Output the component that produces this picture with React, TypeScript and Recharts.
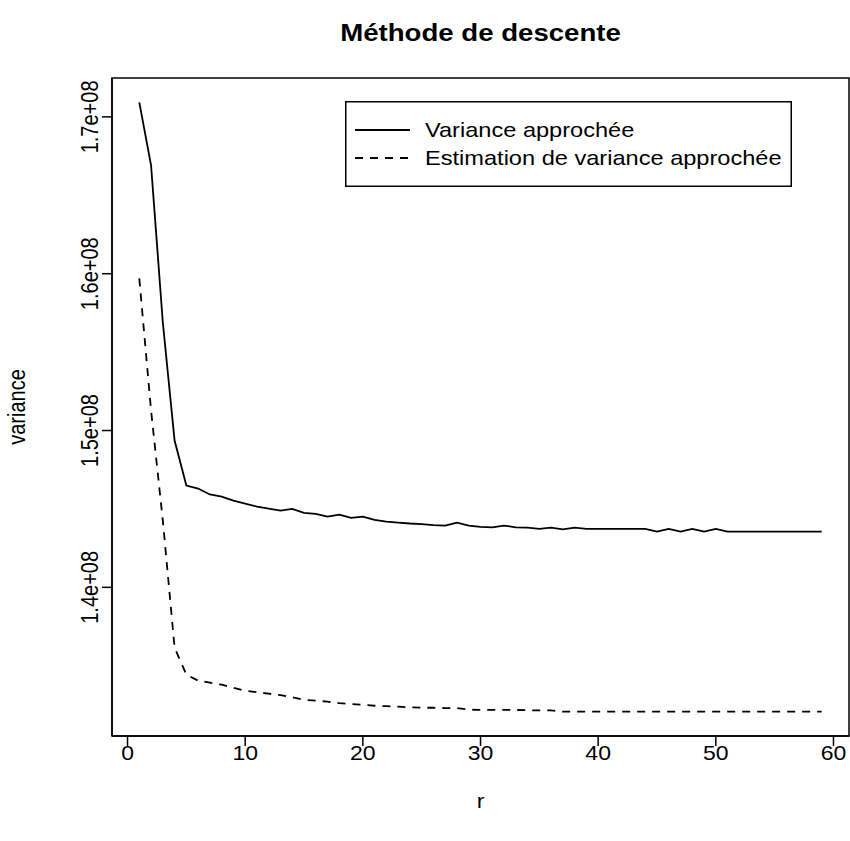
import { LineChart, Line, XAxis, YAxis, Legend, ReferenceArea } from 'recharts'

const R_VALUES = [
  1, 2, 3, 4, 5, 6, 7, 8, 9, 10, 11, 12, 13, 14, 15, 16, 17, 18, 19, 20,
  21, 22, 23, 24, 25, 26, 27, 28, 29, 30, 31, 32, 33, 34, 35, 36, 37, 38, 39, 40,
  41, 42, 43, 44, 45, 46, 47, 48, 49, 50, 51, 52, 53, 54, 55, 56, 57, 58, 59,
]

// variance approchée
const VARIANCE_APPROX = [
  1.7093e8, 1.6691e8, 1.5689e8, 1.4936e8, 1.4649e8, 1.463e8, 1.4592e8, 1.4579e8, 1.4553e8, 1.4534e8,
  1.4515e8, 1.4502e8, 1.4489e8, 1.45e8, 1.4475e8, 1.4468e8, 1.4451e8, 1.4464e8, 1.4443e8, 1.4451e8,
  1.443e8, 1.4419e8, 1.4413e8, 1.4407e8, 1.4403e8, 1.4397e8, 1.4394e8, 1.4413e8, 1.4394e8, 1.4385e8,
  1.4383e8, 1.4394e8, 1.4383e8, 1.4381e8, 1.4373e8, 1.4381e8, 1.437e8, 1.4381e8, 1.4373e8, 1.4373e8,
  1.4373e8, 1.4373e8, 1.4373e8, 1.4373e8, 1.4355e8, 1.4373e8, 1.4355e8, 1.4373e8, 1.4355e8, 1.4373e8,
  1.4355e8, 1.4355e8, 1.4355e8, 1.4355e8, 1.4355e8, 1.4355e8, 1.4355e8, 1.4355e8, 1.4355e8,
]

// estimation de variance approchée
const VARIANCE_ESTIMATE = [
  1.597e8, 1.5128e8, 1.4426e8, 1.3615e8, 1.3443e8, 1.3405e8, 1.3392e8, 1.3379e8, 1.336e8, 1.3341e8,
  1.3331e8, 1.3322e8, 1.3312e8, 1.3299e8, 1.3283e8, 1.3277e8, 1.3271e8, 1.3261e8, 1.3256e8, 1.3251e8,
  1.3245e8, 1.3242e8, 1.3239e8, 1.3235e8, 1.3232e8, 1.3232e8, 1.323e8, 1.323e8, 1.322e8, 1.3218e8,
  1.3218e8, 1.3218e8, 1.3218e8, 1.3216e8, 1.3216e8, 1.3216e8, 1.3207e8, 1.3207e8, 1.3207e8, 1.3207e8,
  1.3207e8, 1.3207e8, 1.3207e8, 1.3207e8, 1.3207e8, 1.3207e8, 1.3207e8, 1.3207e8, 1.3207e8, 1.3207e8,
  1.3207e8, 1.3207e8, 1.3207e8, 1.3207e8, 1.3207e8, 1.3207e8, 1.3207e8, 1.3207e8, 1.3207e8,
]

const X_TICKS = [0, 10, 20, 30, 40, 50, 60]
const Y_TICKS = [1.4e8, 1.5e8, 1.6e8, 1.7e8]
const X_DOMAIN = [-1.32, 61.32]
const Y_DOMAIN = [1.3052e8, 1.7248e8]
const SERIES_NAMES = ['Variance approchée', 'Estimation de variance approchée']

const data = R_VALUES.map((r, i) => ({
  r,
  approx: VARIANCE_APPROX[i],
  estimate: VARIANCE_ESTIMATE[i],
}))

const FONT = '"Liberation Sans", Arial, sans-serif'
const FS = 20
const STRETCH = 1.15
const DASH = '8 7'

const XTick = (props: any) => {
  const { x, y, payload } = props
  return (
    <text transform={`translate(${x},${y + 14}) scale(${STRETCH},1)`} textAnchor="middle"
      fontSize={FS} fontFamily={FONT} fill="#000">
      {payload.value}
    </text>
  )
}

const YTick = (props: any) => {
  const { x, y, payload } = props
  const label = (payload.value / 1e8).toFixed(1) + 'e+08'
  return (
    <text transform={`translate(${x - 4},${y}) scale(${STRETCH},1) rotate(-90)`} textAnchor="middle"
      fontSize={FS} fontFamily={FONT} fill="#000">
      {label}
    </text>
  )
}

function LegendBox() {
  return (
    <svg width={447} height={86} style={{ display: 'block' }}>
      <rect x={0.75} y={0.75} width={445.5} height={84.5} fill="#fff" stroke="#000" strokeWidth={1.5} />
      <line x1={10} x2={65} y1={29} y2={29} stroke="#000" strokeWidth={2} />
      <line x1={10} x2={65} y1={57} y2={57} stroke="#000" strokeWidth={2} strokeDasharray={DASH} />
      <text transform={`translate(80,36) scale(1.18,1)`} fontSize={FS} fontFamily={FONT} fill="#000">
        {SERIES_NAMES[0]}
      </text>
      <text transform={`translate(80,64) scale(1.18,1)`} fontSize={FS} fontFamily={FONT} fill="#000">
        {SERIES_NAMES[1]}
      </text>
    </svg>
  )
}

export default function App() {
  return (
    <div style={{ position: 'absolute', left: 0, top: 0, width: 850, height: 841, background: '#fff' }}>
      <div style={{
        position: 'absolute', left: 0, top: 19, width: 961, textAlign: 'center',
        fontFamily: FONT, fontWeight: 'bold', fontSize: FS * 1.2, lineHeight: 'normal',
        transform: `scaleX(${STRETCH})`, transformOrigin: 'center', zIndex: 2,
      }}>
        Méthode de descente
      </div>
      <LineChart width={850} height={841} data={data} margin={{ top: 78, right: 1, bottom: 0, left: 0 }}>
        <XAxis dataKey="r" type="number" domain={X_DOMAIN} ticks={X_TICKS} interval={0}
          height={105} tickSize={10} tickMargin={0} tick={XTick}
          axisLine={{ stroke: '#000', strokeWidth: 1.5 }} tickLine={{ stroke: '#000', strokeWidth: 1.5 }}
          label={{
            content: (p: any) => {
              const vb = p.viewBox
              return (
                <text transform={`translate(${vb.x + vb.width / 2},${vb.y + 72}) scale(${STRETCH},1)`}
                  textAnchor="middle" fontSize={FS} fontFamily={FONT} fill="#000">r</text>
              )
            },
          }} />
        <YAxis type="number" domain={Y_DOMAIN} ticks={Y_TICKS} interval={0}
          width={112} tickSize={10} tickMargin={0} tick={YTick}
          axisLine={{ stroke: '#000', strokeWidth: 1.5 }} tickLine={{ stroke: '#000', strokeWidth: 1.5 }}
          label={{
            content: (p: any) => {
              const vb = p.viewBox
              return (
                <text transform={`translate(25,${vb.y + vb.height / 2}) scale(${STRETCH},1) rotate(-90)`}
                  textAnchor="middle" fontSize={FS} fontFamily={FONT} fill="#000">variance</text>
              )
            },
          }} />
        {/* plot frame, like R's box() */}
        <ReferenceArea x1={X_DOMAIN[0]} x2={X_DOMAIN[1]} y1={Y_DOMAIN[0]} y2={Y_DOMAIN[1]}
          fill="none" fillOpacity={0} stroke="#000" strokeWidth={1.5} strokeOpacity={1} ifOverflow="visible" />
        <Legend layout="vertical" align="center" verticalAlign="middle"
          wrapperStyle={{ position: 'absolute', left: 345, top: 101, width: 447, height: 86 }}
          content={() => <LegendBox />} />
        <Line type="linear" dataKey="approx" name={SERIES_NAMES[0]} stroke="#000" strokeWidth={1.8}
          dot={false} activeDot={false} isAnimationActive={false} />
        <Line type="linear" dataKey="estimate" name={SERIES_NAMES[1]} stroke="#000" strokeWidth={1.8}
          strokeDasharray={DASH} dot={false} activeDot={false} isAnimationActive={false} />
      </LineChart>
    </div>
  )
}
